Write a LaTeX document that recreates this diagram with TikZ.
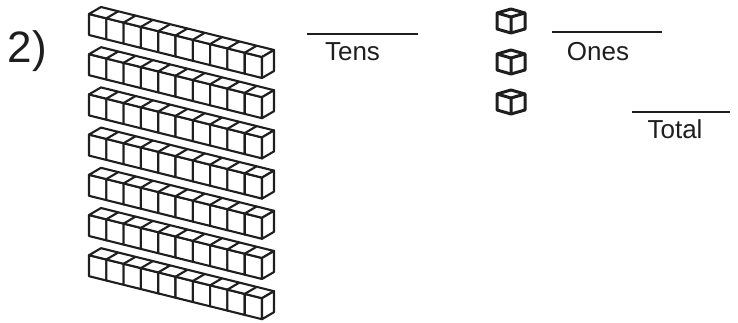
\documentclass[tikz,border=0pt]{standalone}
\usepackage{fontspec}
\setmainfont{Liberation Sans}
\usepackage{tikz}
\definecolor{ink}{RGB}{30, 30, 30}
\tikzstyle{blank}=[draw=ink,line width=2pt]
\tikzstyle{lbl}=[anchor=base,inner sep=0pt,text=ink,
  font=\fontsize{26}{30}\selectfont]
\tikzstyle{rodline}=[draw=ink,fill=white,line width=2.1pt,line join=round]
\tikzstyle{unitline}=[draw=ink,fill=white,line width=3pt,line join=round]
% ten-rod, #1 #2 = front top left corner
\newcommand{\tenrod}[2]{
  \foreach \i in {0,...,9}
    \draw[style=rodline] (#1+\i*17.3,#2+\i*4.3) -- ++(17.3,4.3) -- ++(0,21)
      -- ++(-17.3,-4.3) -- cycle;
  \draw[style=rodline] (#1,#2) -- ++(173,43) -- ++(12,-7) -- ++(-173,-43) -- cycle;
  \foreach \i in {1,...,9}
    \draw[style=rodline] (#1+\i*17.3,#2+\i*4.3) -- ++(12,-7);
  \draw[style=rodline] (#1+173,#2+43) -- ++(12,-7) -- ++(0,21) -- ++(-12,7) -- cycle;
}
% unit cube, #1 #2 = back tip of the top face
\newcommand{\unitcube}[2]{
  \draw[style=unitline] (#1-14,#2+4) -- (#1,#2) -- (#1+14,#2+4) -- (#1+14,#2+20)
    -- (#1,#2+24) -- (#1-14,#2+20) -- cycle;
  \draw[style=unitline] (#1-14,#2+4) -- (#1,#2+8) -- (#1+14,#2+4)
    (#1,#2+8) -- (#1,#2+24);
}

\begin{document}
\begin{tikzpicture}[x=1pt,y=-1pt]
    \useasboundingbox (0,0) rectangle (738,322);
    \node[anchor=base,inner sep=0pt,text=ink,font=\fontsize{44}{50}\selectfont]
      (num) at (27.5,62) {2)};
    \foreach \k in {0,...,6}
      \tenrod{89}{14+40.2*\k};
    \unitcube{511}{9}
    \unitcube{511}{50}
    \unitcube{511}{90}
    \node (0) at (307, 34) {};
    \node (1) at (418, 34) {};
    \node (2) at (552, 32) {};
    \node (3) at (662, 32) {};
    \node (4) at (632, 112) {};
    \node (5) at (730, 112) {};
    \node[style=lbl] (tens) at (352.5, 60) {Tens};
    \node[style=lbl] (ones) at (598, 60) {Ones};
    \node[style=lbl] (total) at (675, 138) {Total};
    \draw[style=blank] (0.center) to (1.center);
    \draw[style=blank] (2.center) to (3.center);
    \draw[style=blank] (4.center) to (5.center);
\end{tikzpicture}
\end{document}
